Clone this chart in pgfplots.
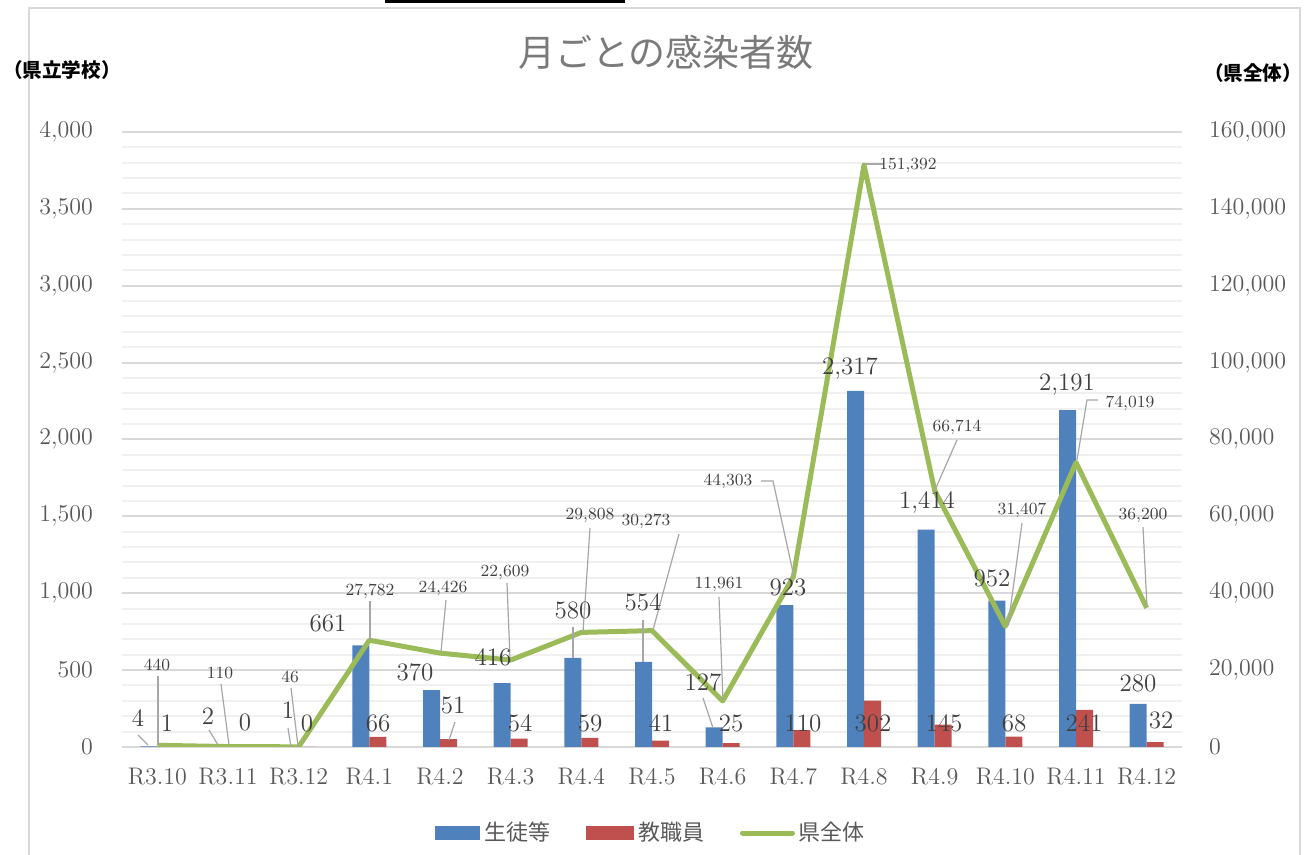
\documentclass[border=0pt]{standalone}
\usepackage{fontspec}
\usepackage{pgfplots}
\pgfplotsset{compat=1.18}
\newfontfamily\cjk{Noto Sans CJK JP}
\definecolor{blueC}{HTML}{4F81BD}
\definecolor{redC}{HTML}{C0504D}
\definecolor{greenC}{HTML}{9BBB59}
\definecolor{tickC}{HTML}{595959}
\definecolor{lblC}{HTML}{404040}
\definecolor{leadC}{HTML}{A6A6A6}
\definecolor{majC}{HTML}{D9D9D9}
\definecolor{minC}{HTML}{F0F0F0}
\begin{document}
\begin{tikzpicture}
\path[use as bounding box] (0,0) rectangle (653.5pt,427.5pt);
% frame
\begin{scope}[x=0.5pt,y=-0.5pt,shift={(0pt,427.5pt)}]
\draw[majC,line width=0.8pt] (29,870) -- (29,8) -- (1300,8) -- (1300,870);
\fill[black] (385,0) rectangle (625,3);
\end{scope}

\begin{axis}[
  at={(61pt,54pt)}, anchor=south west,
  scale only axis, width=530pt, height=307.5pt,
  xmin=-0.5, xmax=14.5, ymin=0, ymax=4000,
  axis x line*=bottom, axis y line*=left,
  x axis line style={draw=majC, line width=1pt, -},
  y axis line style={draw=none},
  xtick={0,...,14},
  xticklabels={R3.10,R3.11,R3.12,R4.1,R4.2,R4.3,R4.4,R4.5,R4.6,R4.7,R4.8,R4.9,R4.10,R4.11,R4.12},
  ytick={0,500,...,4000},
  minor y tick num=4,
  major tick length=0pt, minor tick length=0pt,
  ymajorgrids, yminorgrids,
  major grid style={draw=majC, line width=1pt},
  minor grid style={draw=minC, line width=1pt},
  scaled y ticks=false,
  yticklabel={\pgfmathprintnumber[fixed,1000 sep={\mathord{,}}]{\tick}},
  yticklabel style={font=\fontsize{12}{14}\selectfont, text=tickC, xshift=-11pt},
  xticklabel style={font=\fontsize{12}{14}\selectfont, text=tickC, yshift=-7pt},
  ybar, bar width=8.5pt,
  legend style={draw=none, fill=none, at={(0.5,-0.14)}, anchor=center,
    legend columns=3, font=\cjk\fontsize{11}{13}\selectfont, text=tickC,
    /tikz/every even column/.append style={column sep=16pt},
    /tikz/every odd column/.append style={column sep=0pt}},
]
\addplot[fill=blueC, draw=none, bar shift=-4.25pt,
  legend image code/.code={\fill[blueC] (0pt,-3.5pt) rectangle (22.5pt,3.5pt);}]
  coordinates {(0,4) (1,2) (2,1) (3,661) (4,370) (5,416) (6,580) (7,554) (8,127) (9,923) (10,2317) (11,1414) (12,952) (13,2191) (14,280)};
\addlegendentry{生徒等}
\addplot[fill=redC, draw=none, bar shift=4.25pt,
  legend image code/.code={\fill[redC] (0pt,-3.5pt) rectangle (24pt,3.5pt);}]
  coordinates {(0,1) (1,0) (2,0) (3,66) (4,51) (5,54) (6,59) (7,41) (8,25) (9,110) (10,302) (11,145) (12,68) (13,241) (14,32)};
\addlegendentry{教職員}
\addlegendimage{legend image code/.code={\draw[greenC, line width=2.5pt, line cap=round] (0pt,0pt) -- (25pt,0pt);}}
\addlegendentry{県全体}
\end{axis}

\begin{axis}[
  at={(61pt,54pt)}, anchor=south west,
  scale only axis, width=530pt, height=307.5pt,
  xmin=-0.5, xmax=14.5, ymin=0, ymax=160000,
  axis x line=none, axis y line*=right,
  y axis line style={draw=none},
  ytick={0,20000,...,160000},
  major tick length=0pt,
  scaled y ticks=false,
  yticklabel={\pgfmathprintnumber[fixed,1000 sep={\mathord{,}}]{\tick}},
  yticklabel style={font=\fontsize{12}{14}\selectfont, text=tickC, xshift=10pt},
]
\addplot[greenC, line width=2.5pt, line join=round, mark=none]
  coordinates {(0,440) (1,110) (2,46) (3,27782) (4,24426) (5,22609) (6,29808) (7,30273) (8,11961) (9,44303) (10,151392) (11,66714) (12,31407) (13,74019) (14,36200)};
\end{axis}

\begin{scope}[x=0.5pt,y=-0.5pt,shift={(0pt,427.5pt)}]
% titles
\node[text=tickC!80!white, font=\cjk\fontsize{18.5}{20}\selectfont] at (666,52) {月ごとの感染者数};
\node[font=\cjk\bfseries\fontsize{9.8}{11}\selectfont, inner sep=0pt] at (62,70) {（県立学校）};
\node[font=\cjk\bfseries\fontsize{9.8}{11}\selectfont, inner sep=0pt] at (1253,73) {（県全体）};
% leader lines
\begin{scope}[leadC, line width=0.6pt]
\draw (158,676) -- (158,745);
\draw (221,684) -- (229,745);
\draw (291,688) -- (298,746);
\draw (370,601) -- (370,640);
\draw (446,600) -- (441,652);
\draw (507,583) -- (510,658);
\draw (590,528) -- (583,632);
\draw (679,534) -- (653,630);
\draw (719,597) -- (723,700);
\draw (761,481) -- (773,481) -- (794,577);
\draw (866,164) -- (884,164);
\draw (957,440) -- (935,490);
\draw (1022,523) -- (1008,626);
\draw (1098,400) -- (1087,400) -- (1077,460);
\draw (1143,527) -- (1147,607);
\draw (138,735) -- (148,745);
\draw (209,730) -- (218,745);
\draw (288,728) -- (291,747);
\draw (455,722) -- (449,740);
\draw (573,627) -- (573,658);
\draw (643,620) -- (643,662);
\draw (703,698) -- (713,728);
\end{scope}
% green labels
\begin{scope}[every node/.style={text=lblC, font=\fontsize{8.5}{10}\selectfont, inner sep=0pt}]
\node at (157,665) {440};
\node at (220,673) {110};
\node at (290,677) {46};
\node at (370,591) {27,782};
\node at (443,588) {24,426};
\node at (505,572) {22,609};
\node at (590,515) {29,808};
\node at (646,521) {30,273};
\node at (719,584) {11,961};
\node at (728,481) {44,303};
\node at (908,165) {151,392};
\node at (957,427) {66,714};
\node at (1022,510) {31,407};
\node at (1130,403) {74,019};
\node at (1143,515) {36,200};
\end{scope}
% bar labels
\begin{scope}[every node/.style={text=lblC, font=\fontsize{12.5}{14}\selectfont, inner sep=0pt}]
\node at (138,718) {4};
\node at (208,716) {2};
\node at (288,710) {1};
\node at (328,623) {661};
\node at (415,672) {370};
\node at (493,657) {416};
\node at (573,610) {580};
\node at (643,602) {554};
\node at (703,682) {127};
\node at (788,587) {923};
\node at (850,368) {2,317};
\node at (927,502) {1,414};
\node at (992,578) {952};
\node at (1067,385) {2,191};
\node at (1138,683) {280};
\node at (167,723) {1};
\node at (245,722) {0};
\node at (307,723) {0};
\node at (378,723) {66};
\node at (453,705) {51};
\node at (520,723) {54};
\node at (590,723) {59};
\node at (661,723) {41};
\node at (731,723) {25};
\node at (803,723) {110};
\node at (873,723) {302};
\node at (944,723) {145};
\node at (1014,723) {68};
\node at (1084,723) {241};
\node at (1161,720) {32};
\end{scope}
\end{scope}
\end{tikzpicture}
\end{document}
